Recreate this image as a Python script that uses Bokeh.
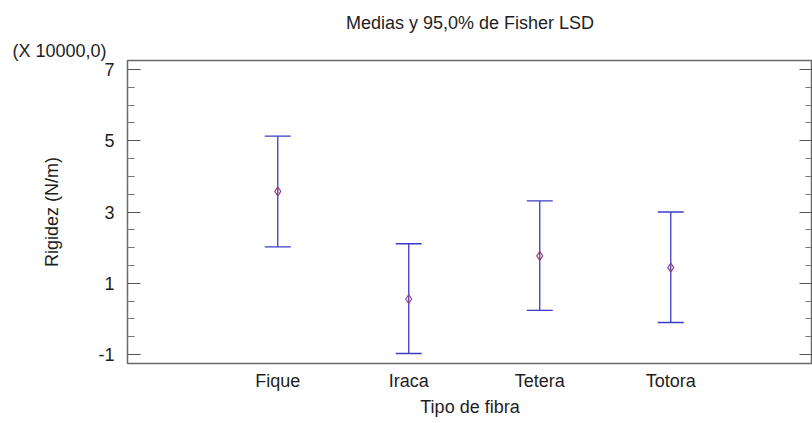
from bokeh.plotting import figure
from bokeh.models import (Whisker, TeeHead, ColumnDataSource, FixedTicker,
                          LinearAxis, Range1d, Title)
from bokeh.embed import file_html
from bokeh.resources import INLINE
import numpy as np

# ---- data (values in units of 10000 N/m) ----
categories = ["Fique", "Iraca", "Tetera", "Totora"]
means = [3.58, 0.56, 1.77, 1.44]
lower = [2.02, -0.97, 0.24, -0.10]
upper = [5.13, 2.11, 3.31, 3.00]
y_ticks = [-1, 1, 3, 5, 7]

FONT = "Liberation Sans"
TXT = "#1e1e1e"
BLUE = "#3b3bc8"
MARK = "#9a4470"
FRAME = "#6a6a6a"

x_pos = list(range(1, len(categories) + 1))
minor = [float(t) for t in np.arange(min(y_ticks), max(y_ticks) + 0.01, 0.5)
         if t not in y_ticks]

p = figure(width=812, height=423, output_backend="svg", toolbar_location=None,
           x_range=Range1d(-0.147, 5.082), y_range=Range1d(-1.25, 7.25),
           min_border_left=127, min_border_top=60, min_border_bottom=60,
           min_border_right=0, title=None)

p.grid.visible = False
p.outline_line_color = FRAME
p.outline_line_width = 1.5
p.background_fill_color = "white"
p.border_fill_color = "white"

# scale note, closest to the frame
scale_title = Title(text="(X 10000,0)", align="left", offset=-115, standoff=0,
                    text_font=FONT, text_font_size="18px",
                    text_font_style="normal", text_color=TXT)
p.add_layout(scale_title, "above")
main_title = Title(text="Medias y 95,0% de Fisher LSD", align="center",
                   standoff=11, text_font=FONT, text_font_size="18px",
                   text_font_style="normal", text_color=TXT)
p.add_layout(main_title, "above")

# y axis (left)
yax = p.yaxis[0]
yax.ticker = FixedTicker(ticks=y_ticks, minor_ticks=minor)
yax.major_label_overrides = {t: str(t) for t in y_ticks}
yax.axis_line_color = None
yax.major_tick_in = 13
yax.major_tick_out = 0
yax.minor_tick_in = 7
yax.minor_tick_out = 0
yax.major_tick_line_color = "#555555"
yax.minor_tick_line_color = "#777777"
yax.major_label_standoff = 13
yax.major_label_text_font = FONT
yax.major_label_text_font_size = "18px"
yax.major_label_text_color = TXT
yax.axis_label = "Rigidez (N/m)"
yax.axis_label_text_font = FONT
yax.axis_label_text_font_size = "18px"
yax.axis_label_text_font_style = "normal"
yax.axis_label_text_color = TXT
yax.axis_label_standoff = 33

# right axis (ticks only)
rax = LinearAxis(ticker=FixedTicker(ticks=y_ticks, minor_ticks=minor),
                 axis_line_color=None, major_tick_in=13, major_tick_out=0,
                 minor_tick_in=7, minor_tick_out=0,
                 major_tick_line_color="#555555", minor_tick_line_color="#777777",
                 major_label_text_font_size="0px", major_label_standoff=0,
                 major_label_overrides={t: "" for t in y_ticks})
p.add_layout(rax, "right")

# x axis
xax = p.xaxis[0]
xax.ticker = FixedTicker(ticks=x_pos, minor_ticks=[])
xax.major_label_overrides = {i: c for i, c in zip(x_pos, categories)}
xax.axis_line_color = None
xax.major_tick_in = 0
xax.major_tick_out = 0
xax.minor_tick_line_color = None
xax.major_label_standoff = 7
xax.major_label_text_font = FONT
xax.major_label_text_font_size = "18px"
xax.major_label_text_color = TXT
xax.axis_label = "Tipo de fibra"
xax.axis_label_text_font = FONT
xax.axis_label_text_font_size = "18px"
xax.axis_label_text_font_style = "normal"
xax.axis_label_text_color = TXT
xax.axis_label_standoff = 3

src = ColumnDataSource(dict(x=x_pos, mean=means, lower=lower, upper=upper))
w = Whisker(base="x", lower="lower", upper="upper", source=src,
            line_color=BLUE, line_width=1.3,
            upper_head=TeeHead(size=26, line_color=BLUE, line_width=1.3),
            lower_head=TeeHead(size=26, line_color=BLUE, line_width=1.3))
p.add_layout(w)
p.scatter("x", "mean", source=src, marker="diamond", size=9,
          fill_color=None, line_color=MARK, line_width=1.2)

open("out.html", "w").write(file_html(p, INLINE))
